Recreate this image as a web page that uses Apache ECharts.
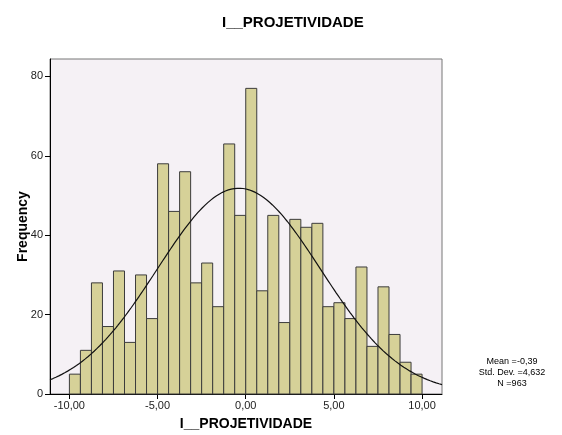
<!DOCTYPE html>
<html>
<head>
<meta charset="utf-8">
<script src="https://cdn.jsdelivr.net/npm/echarts@6/dist/echarts.min.js"></script>
<style>
  html, body { margin: 0; padding: 0; background: #fff; }
  #chart { width: 562px; height: 435px; }
</style>
</head>
<body>
<div id="chart"></div>
<script>
// histogram bins: left edges from -10, width 0.625
var binStart = -10;
var binWidth = 0.625;
var counts = [5, 11, 28, 17, 31, 13, 30, 19, 58, 46, 56, 28, 33, 22, 63, 45,
              77, 26, 45, 18, 44, 42, 43, 22, 23, 19, 32, 12, 27, 15, 8, 5];
var xTicks = [-10, -5, 0, 5, 10];
var yTicks = [0, 20, 40, 60, 80];
var mean = -0.39, stdDev = 4.632, n = 963;

var fontFam = '"Liberation Sans", Arial, sans-serif';

var bins = [];
for (var i = 0; i < counts.length; i++) {
  var a = binStart + i * binWidth;
  bins.push([a, a + binWidth, counts[i]]);
}

// fitted normal curve (from mean / std. dev. / N shown on the chart)
var curve = [];
for (var k = 0; k <= 400; k++) {
  var x = -11.1 + k * (22.23 / 400);
  var z = (x - mean) / stdDev;
  var y = n * binWidth / (stdDev * Math.sqrt(2 * Math.PI)) * Math.exp(-0.5 * z * z);
  curve.push([x, y]);
}

function fmt(v) {
  return v.toFixed(2).replace('.', ',');
}

var myChart = echarts.init(document.getElementById('chart'));
var option = {
  animation: false,
  backgroundColor: '#ffffff',
  title: {
    text: 'I__PROJETIVIDADE',
    left: 217, top: 10,
    textStyle: { fontFamily: fontFam, fontSize: 15, fontWeight: 'bold', color: '#000' }
  },
  graphic: [{
    type: 'text',
    x: 512, y: 356,
    style: {
      text: 'Mean =-0,39\nStd. Dev. =4,632\nN =963',
      font: '9px ' + fontFam,
      fill: '#000',
      align: 'center',
      lineHeight: 11
    }
  }],
  grid: {
    left: 50, top: 59, width: 392, height: 335,
    outerBoundsMode: 'none',
    show: true,
    backgroundColor: '#f5f1f5',
    borderColor: '#777',
    borderWidth: 1
  },
  xAxis: {
    type: 'value',
    min: -11.1, max: 11.13,
    name: 'I__PROJETIVIDADE',
    nameLocation: 'middle',
    nameGap: 23,
    nameMoveOverlap: false,
    nameTextStyle: { fontFamily: fontFam, fontSize: 14, fontWeight: 'bold', color: '#000' },
    splitLine: { show: false },
    axisLine: { onZero: false, lineStyle: { color: '#000', width: 1 } },
    axisTick: { show: true, length: 5, customValues: xTicks, lineStyle: { color: '#000' } },
    axisLabel: {
      customValues: xTicks,
      formatter: function (v) { return fmt(v); },
      fontFamily: fontFam, fontSize: 11, color: '#222', margin: 6
    }
  },
  yAxis: {
    type: 'value',
    min: 0, max: 84.4,
    name: 'Frequency',
    nameLocation: 'middle',
    nameGap: 20,
    nameMoveOverlap: false,
    nameRotate: 90,
    nameTextStyle: { fontFamily: fontFam, fontSize: 14, fontWeight: 'bold', color: '#000' },
    splitLine: { show: false },
    axisLine: { show: true, onZero: false, lineStyle: { color: '#000', width: 1 } },
    axisTick: { show: true, length: 5, customValues: yTicks, lineStyle: { color: '#000' } },
    axisLabel: {
      customValues: yTicks,
      fontFamily: fontFam, fontSize: 11, color: '#222', margin: 7
    }
  },
  series: [{
    type: 'custom',
    data: bins,
    renderItem: function (params, api) {
      var p0 = api.coord([api.value(0), api.value(2)]);
      var p1 = api.coord([api.value(1), 0]);
      return {
        type: 'rect',
        shape: { x: p0[0], y: p0[1], width: p1[0] - p0[0], height: p1[1] - p0[1] },
        style: { fill: '#d6d198', stroke: '#3c3c3c', lineWidth: 1 }
      };
    },
    z: 2
  }, {
    type: 'line',
    data: curve,
    showSymbol: false,
    smooth: false,
    lineStyle: { color: '#111', width: 1.2 },
    z: 3
  }]
};
myChart.setOption(option);
</script>
</body>
</html>
